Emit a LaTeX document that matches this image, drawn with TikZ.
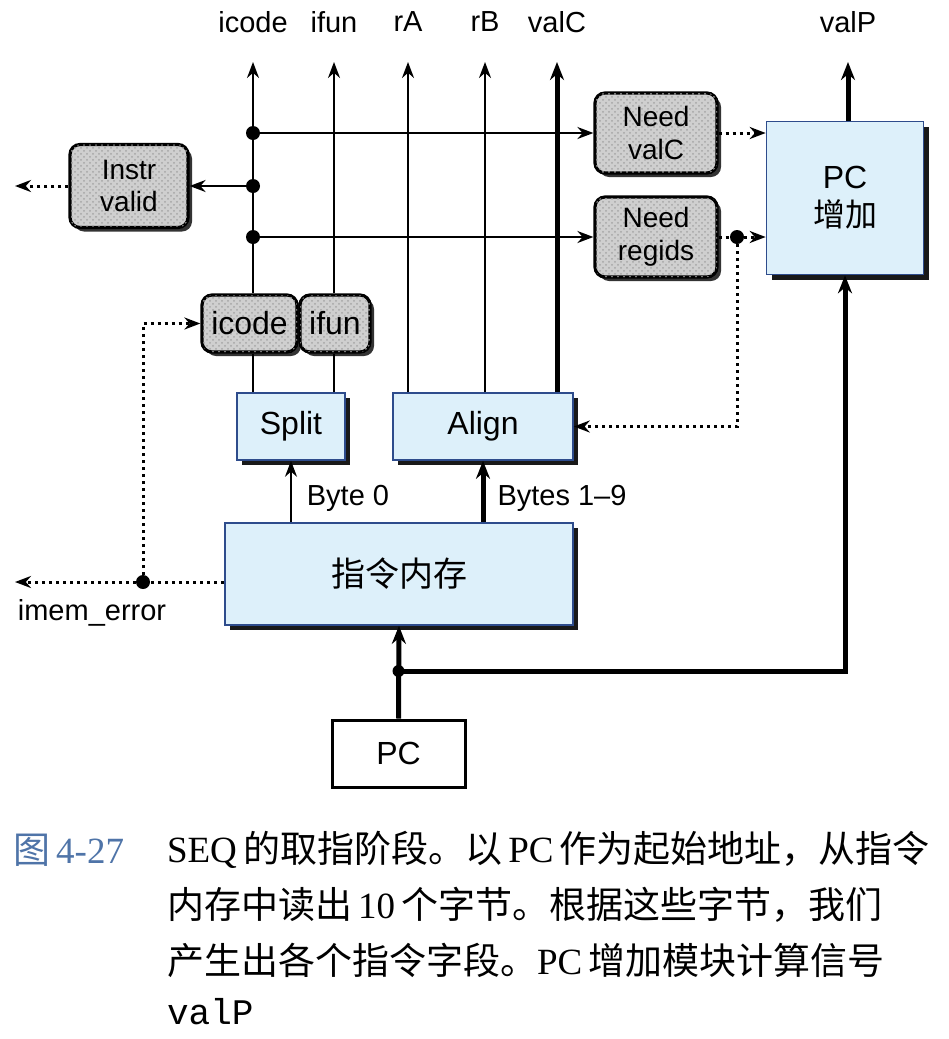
\documentclass[tikz,border=0pt]{standalone}
\usepackage{fontspec}
\setmainfont{Liberation Serif}
\setsansfont{Liberation Sans}
\setmonofont{Liberation Mono}
\newfontfamily\cjk{Noto Sans CJK SC}
\usetikzlibrary{arrows.meta,shadows,patterns}
\definecolor{hwfill}{HTML}{DDF0FA}
\definecolor{hwline}{HTML}{2E4C8C}
\definecolor{ctlfill}{HTML}{CFCFCF}
\definecolor{capblue}{HTML}{4F74A8}
\tikzset{
  hwbox/.style={draw=hwline,line width=0.8pt,fill=hwfill,inner sep=0pt,
    drop shadow={shadow xshift=2.5pt,shadow yshift=-2.5pt,fill=black,opacity=.9}},
  ctlbox/.style={draw,line width=1.6pt,rounded corners=5pt,fill=ctlfill,inner sep=0pt,
    align=center,font=\sffamily\fontsize{14}{16.5}\selectfont,
    postaction={pattern=crosshatch dots,pattern color=black!35},
    drop shadow={shadow xshift=2pt,shadow yshift=-2pt,fill=black,opacity=.8}},
  sig/.style={line width=1pt},
  bus/.style={line width=2.5pt,-{Stealth[length=9pt,width=7pt]}},
  ctl/.style={line width=1.5pt,dotted},
  big/.style={font=\sffamily\fontsize{16}{19}\selectfont},
}

\begin{document}
\begin{tikzpicture}[x=0.5pt,y=-0.5pt,>={Stealth[length=8pt,width=6pt]},
  font=\sffamily\fontsize{14.5}{17}\selectfont]
\useasboundingbox (0,0) rectangle (948,1039);
% hardware blocks
\node[hwbox,big,align=center,minimum width=78.5pt,minimum height=76.5pt] (pcinc) at (845,198) {PC\\{\cjk 增加}};
\node[hwbox,big,minimum width=54pt,minimum height=33.5pt] (split) at (291,426.5) {Split};
\node[hwbox,big,minimum width=90pt,minimum height=33.5pt] (align) at (483,426.5) {Align};
\node[hwbox,font=\cjk\fontsize{17}{20}\selectfont,minimum width=174pt,minimum height=51pt] (imem) at (399,574) {指令内存};
\node[draw,big,line width=1.5pt,fill=white,minimum width=66.5pt,minimum height=33.5pt] (pc) at (398.5,753.5) {PC};
% control blocks
\node[ctlbox,minimum width=59pt,minimum height=41.5pt] (instr) at (129,186) {Instr\\valid};
\node[ctlbox,minimum width=61pt,minimum height=40pt] (needC) at (656,133) {Need\\valC};
\node[ctlbox,minimum width=61pt,minimum height=40pt] (needR) at (656,237) {Need\\regids};
\node[ctlbox,big,minimum width=47.5pt,minimum height=28.5pt] (icodeb) at (249.5,323.5) {icode};
\node[ctlbox,big,minimum width=35pt,minimum height=28.5pt] (ifunb) at (335,323.5) {ifun};

% outputs at the top
\foreach \n/\x/\t in {Icode/253/icode,Ifun/334/ifun,RA/408/rA,RB/485/rB,ValC/557/valC,ValP/848/valP}{
  \coordinate (t\n) at (\x,62);
  \node (l\n) at (\x,22) {\t};
}
\draw[sig,->] (icodeb.north -| tIcode) -- (tIcode);
\draw[sig] (split.north -| tIcode) -- (icodeb.south -| tIcode);
\draw[sig,->] (ifunb.north -| tIfun) -- (tIfun);
\draw[sig] (split.north -| tIfun) -- (ifunb.south -| tIfun);
\draw[sig,->] (align.north -| tRA) -- (tRA);
\draw[sig,->] (align.north -| tRB) -- (tRB);
\draw[bus] (align.north -| tValC) -- (tValC);
\draw[bus] (pcinc.north -| tValP) -- (tValP);

% icode taps
\coordinate (j1) at (253,133);
\coordinate (j2) at (253,186);
\coordinate (j3) at (253,237);
\draw[sig,->] (j1) -- (needC.west);
\draw[sig,->] (j2) -- (instr.east);
\draw[sig,->] (j3) -- (needR.west);
\foreach \j in {j1,j2,j3} \fill (\j) circle[radius=3.5pt];

% control signals
\coordinate (ivOut) at (15,186);
\coordinate (jR) at (737,237);
\draw[ctl,->] (instr.west) -- (ivOut);
\draw[ctl,->] (needC.east) -- (pcinc.west |- needC.east);
\draw[ctl] (needR.east) -- (jR);
\draw[ctl,->] (jR) -- (pcinc.west |- jR);
\draw[ctl,->] (jR) |- (align.east);
\fill (jR) circle[radius=3.5pt];

% bytes from memory
\draw[sig,->] (imem.north -| split.south) -- (split.south);
\draw[bus] (imem.north -| align.south) -- (align.south);
\node (lByte) at (348,498) {Byte 0};
\node (lBytes) at (562,498) {Bytes 1--9};

% imem_error
\coordinate (jE) at (143,582);
\coordinate (ieOut) at (15,582);
\draw[ctl] (imem.west |- jE) -- (jE);
\draw[ctl,->] (jE) -- (ieOut);
\draw[ctl,->] (jE) |- (icodeb.west);
\fill (jE) circle[radius=3.5pt];
\node (lErr) at (92,613) {imem\_error};

% PC
\coordinate (jP) at (398.5,671);
\draw[bus] (pc.north) -- (imem.south);
\draw[bus] (jP) -| (pcinc.south);
\fill (jP) circle[radius=3pt];

% caption
\begin{scope}[font=\rmfamily\fontsize{18.5}{23}\selectfont]
\node[anchor=west,text=capblue] (fignum) at (6,850) {{\cjk 图}\,4-27};
\node[anchor=west] (cap1) at (160,850) {SEQ\,{\cjk 的取指阶段。以}\,PC\,{\cjk 作为起始地址，从指令}};
\node[anchor=west] (cap2) at (160,905) {{\cjk 内存中读出}\,10\,{\cjk 个字节。根据这些字节，我们}};
\node[anchor=west] (cap3) at (160,960) {{\cjk 产生出各个指令字段。}PC\,{\cjk 增加模块计算信号}};
\node[anchor=west,font=\ttfamily\fontsize{18}{22}\selectfont] (cap4) at (160,1012) {valP};
\end{scope}
\end{tikzpicture}
\end{document}
